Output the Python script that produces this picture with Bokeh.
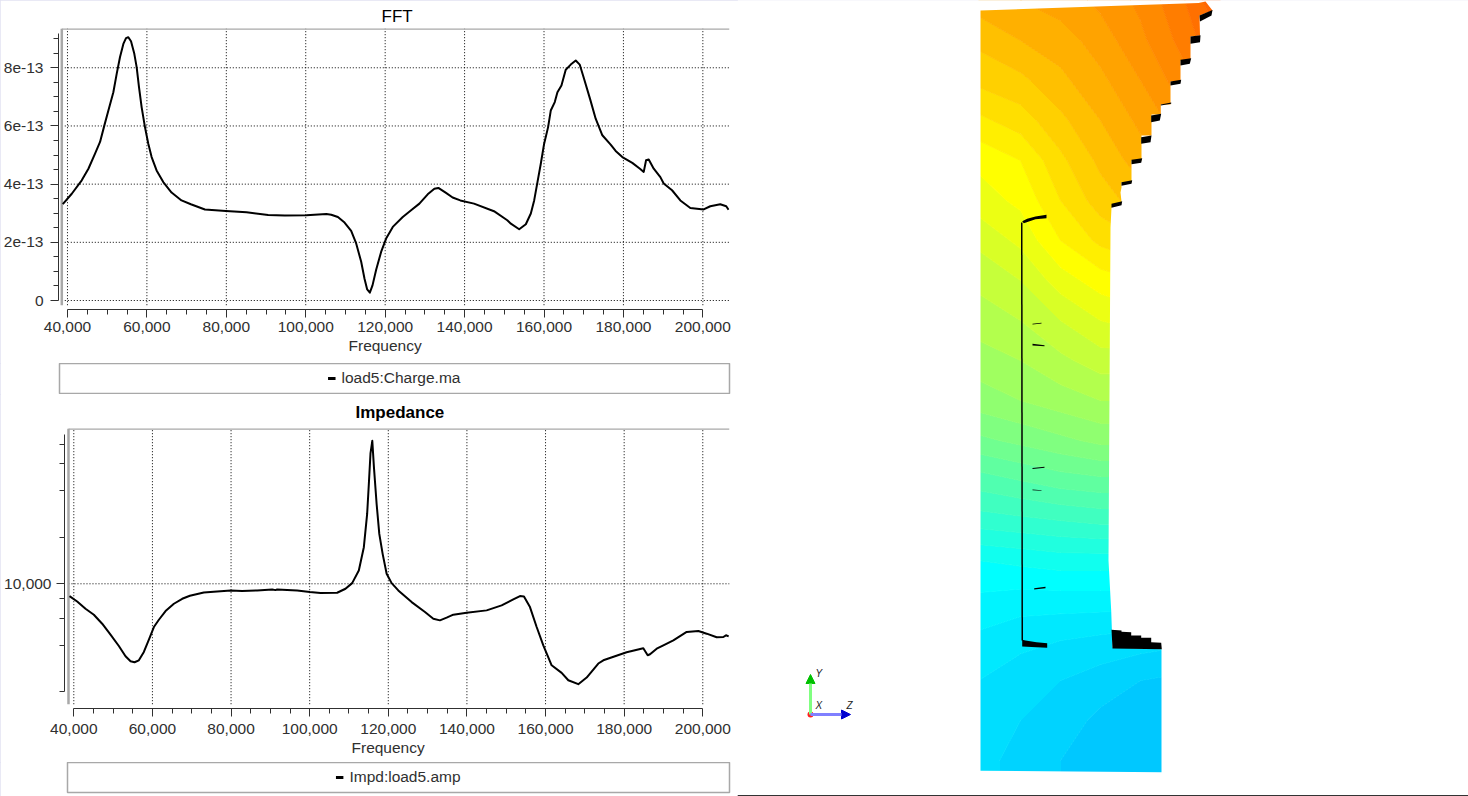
import numpy as np
from bokeh.embed import file_html
from bokeh.resources import INLINE
from bokeh.layouts import column, row
from bokeh.plotting import figure
from bokeh.models import (Range1d, FixedTicker, CustomJSTickFormatter, NumeralTickFormatter, Span, Legend,
                          LegendItem, Arrow, NormalHead, Label, Title)

# ---- FFT curve -------------------------------------------------------
fft_freq = [38820, 41080, 43590, 45270, 46940, 48200, 49290, 50300, 51550, 52390, 53230, 54070, 54740, 55320,
            56000, 56830, 57420, 58000, 58670, 59510, 60350, 61190, 62440, 64120, 66210, 68720, 71070, 74610,
            79890, 85090, 90530, 94720, 100170, 105200,
            106420, 108090, 109770, 111440, 112700, 113960, 114800, 115470, 116140, 116810, 117730, 118980,
            120240, 121920, 124430, 126530, 128620, 130710, 132390, 133390, 135320, 136990, 138920,
            142370, 147400, 150750,
            151650, 153750, 155420, 156680, 157520, 158350, 159190, 160030, 161030, 161700, 162710, 163380,
            164390, 165470, 166730, 167990, 168990, 170080, 171590, 173010, 174690, 176780, 178040, 179720,
            182230, 184160,
            185110, 185700, 186370, 187630, 189300, 190140, 192240, 194330, 196850, 200200, 201870, 204380,
            205890, 206470]
fft_val = [3.31, 3.67, 4.13, 4.53, 5.05, 5.45, 6.02, 6.53, 7.16, 7.79, 8.37, 8.82, 9.02, 9.05,
           8.91, 8.48, 8.02, 7.34, 6.65, 5.96, 5.39, 4.93, 4.47, 4.07, 3.71, 3.44, 3.31, 3.13,
           3.08, 3.03, 2.94, 2.92, 2.93, 2.97,
           2.95, 2.87, 2.68, 2.39, 1.96, 1.33, 0.75, 0.38, 0.27, 0.52, 1.06, 1.67,
           2.13, 2.53, 2.87, 3.10, 3.33, 3.65, 3.84, 3.87, 3.70, 3.54, 3.44,
           3.33, 3.07, 2.76,
           2.64, 2.45, 2.62, 2.99, 3.44, 4.07, 4.70, 5.39, 5.96, 6.53, 6.82, 7.16,
           7.39, 7.93, 8.11, 8.25, 8.11, 7.62, 6.93, 6.25, 5.68, 5.36, 5.14, 4.93,
           4.73, 4.53,
           4.42, 4.82, 4.85, 4.53, 4.24, 4.02, 3.79, 3.44, 3.18, 3.13, 3.24, 3.31,
           3.24, 3.12]
fft_scale = 1e-13
fft_y_ticks = [0, 2e-13, 4e-13, 6e-13, 8e-13]
fft_y_minor = [0.5e-13, 1e-13, 1.5e-13, 2.5e-13, 3e-13, 3.5e-13, 4.5e-13, 5e-13, 5.5e-13, 6.5e-13, 7e-13, 7.5e-13,
               8.5e-13, 9e-13]

# ---- Impedance curve -------------------------------------------------
imp_freq = [38905, 40860, 42980, 45100, 47220, 49340, 51460, 53160, 54430, 55450, 56550, 57820, 59100, 60370,
            61640, 63340, 65460, 67580, 69530,
            73070, 76460, 79940, 82820, 86640, 90460, 91300, 91730, 96820, 100040, 102750, 106990, 109110,
            110810, 112500, 113780, 114620, 115050, 115470, 115930, 116350, 117030, 117710, 118560, 119580,
            120850, 122540, 125940, 129330, 131450, 133140, 134840, 136540, 139930, 145020, 148830, 151800,
            153500, 154510, 156040, 157740, 159430, 161550, 164100, 165790, 168330, 170460, 173420, 174700,
            177660, 180630, 184870, 185980, 186580, 188270, 189970, 192510, 195900, 198870, 200990, 203530,
            205230, 205900, 206580]
imp_val = [8322, 7687, 6895, 6307, 5517, 4686, 3959, 3396, 3153, 3107, 3200, 3622, 4350, 5253,
           5854, 6659, 7427, 7998, 8363,
           8790, 8920, 9060, 8970, 9060, 9190, 9100, 9190, 9060, 8835, 8705, 8750, 9285,
           10100, 12190, 17240, 28290, 44200, 69660, 84090, 56590, 32830, 21020, 15620, 11600,
           10100, 9060, 7615, 6565, 5945, 5800, 6035, 6310, 6500, 6730, 7245, 7925,
           8325, 8285, 7070, 5255, 4000, 2970, 2655, 2378, 2242, 2475, 3050, 3200,
           3397, 3606, 3828, 3450, 3500, 3805, 4000, 4310, 4880, 4950, 4757, 4507,
           4527, 4643, 4570]
imp_y_ticks = [10000]
imp_y_minor = [2000, 4000, 6000, 8000, 20000, 40000, 60000, 80000]

freq_ticks = [40000, 60000, 80000, 100000, 120000, 140000, 160000, 180000, 200000]
freq_minor = [45000, 50000, 55000, 65000, 70000, 75000, 85000, 90000, 95000, 105000, 110000, 115000, 125000, 130000,
              135000, 145000, 150000, 155000, 165000, 170000, 175000, 185000, 190000, 195000]

# ---- Mesh field: colour-scale level read at nodes (rows top to bottom, columns left to right) ----
field_x = [978, 1020, 1060, 1100, 1140, 1180, 1220]
field_y = [0, 40, 80, 120, 160, 200, 240, 280, 320, 360, 400, 440, 480, 520, 560, 600, 640, 680, 720, 760, 800]
field_rows = [
    [5.10, 5.20, 5.30, 5.45, 5.65, 5.95, 6.40],
    [4.85, 5.00, 5.10, 5.30, 5.55, 5.85, 6.20],
    [4.65, 4.75, 4.95, 5.15, 5.40, 5.70, 6.00],
    [4.35, 4.50, 4.75, 5.00, 5.25, 5.50, 5.80],
    [4.05, 4.20, 4.55, 4.85, 5.10, 5.30, 5.50],
    [3.90, 4.05, 4.40, 4.70, 4.90, 5.00, 5.00],
    [3.65, 3.85, 4.20, 4.45, 4.60, 4.60, 4.60],
    [3.45, 3.60, 3.90, 4.10, 4.20, 4.20, 4.20],
    [3.30, 3.40, 3.60, 3.80, 3.90, 3.90, 3.90],
    [3.10, 3.20, 3.35, 3.50, 3.50, 3.50, 3.50],
    [2.90, 3.00, 3.10, 3.20, 3.20, 3.20, 3.20],
    [2.55, 2.65, 2.75, 2.85, 2.85, 2.85, 2.85],
    [2.10, 2.20, 2.30, 2.35, 2.35, 2.35, 2.35],
    [1.70, 1.75, 1.80, 1.85, 1.85, 1.85, 1.85],
    [1.20, 1.25, 1.30, 1.30, 1.30, 1.30, 1.30],
    [0.95, 0.90, 0.90, 0.90, 0.90, 0.90, 0.90],
    [0.75, 0.65, 0.60, 0.55, 0.50, 0.45, 0.45],
    [0.60, 0.50, 0.40, 0.30, 0.20, 0.15, 0.15],
    [0.50, 0.40, 0.30, 0.15, 0.08, 0.05, 0.05],
    [0.45, 0.35, 0.20, 0.10, 0.05, 0.05, 0.05],
    [0.45, 0.35, 0.20, 0.10, 0.05, 0.05, 0.05],
]
ramp_colors = [(0, 200, 255), (0, 255, 255), (80, 255, 176), (160, 255, 96), (255, 255, 0), (255, 176, 0),
               (255, 112, 0), (255, 64, 0)]

# ---- Mesh outline -----------------------------------------------------
outline_x = [980, 1198, 1205, 1212, 1199, 1199.5, 1190, 1190, 1180, 1180, 1170, 1170, 1160.3, 1160.3, 1151, 1151,
             1141, 1141, 1131, 1131, 1121, 1121, 1120, 1121, 1111, 1110, 1108, 1110.7, 1112, 1161, 1161, 980]
outline_y = [10, 2.5, 1, 10, 15, 35, 36, 59, 60, 81, 81, 104, 104, 114, 114, 135, 135, 160, 160, 182, 182, 187, 192,
             201, 207, 227, 560, 610, 647, 648.7, 771.7, 770.3]
# Black marks, each a list of vertices
mark_xs = [
    [1199, 1212, 1211, 1199.5], [1190, 1200, 1199.5, 1190], [1180, 1190.7, 1189.3, 1180], [1170, 1180.7, 1180, 1170],
    [1160.3, 1170.7, 1170.7, 1160.3], [1150.7, 1160.7, 1159.3, 1150.7], [1140.7, 1151, 1150, 1140.7],
    [1131, 1141.7, 1140.7, 1131], [1121, 1131.7, 1131, 1121], [1111, 1121.7, 1121, 1111],
    [1021.7, 1026.7, 1035, 1046, 1046, 1035, 1023.3], [1020.5, 1022, 1022.5, 1021],
    [1021.7, 1025, 1036, 1046.7, 1046.7, 1036, 1021.7],
    [1111, 1121, 1121, 1130.7, 1130.7, 1140.7, 1140.7, 1150.7, 1150.7, 1160.7, 1161.3, 1112],
    [1032, 1041, 1041, 1032], [1032, 1044, 1044, 1032], [1032, 1044, 1044, 1032], [1032, 1041, 1041, 1032],
    [1033.7, 1045, 1045, 1033.7],
]
mark_ys = [
    [15, 9.5, 15, 21], [36, 34.7, 41.7, 43.3], [59.3, 57.7, 63.3, 65], [81, 79.3, 83.3, 85], [104, 102, 103.3, 105],
    [115, 113.3, 120, 121.7], [136.7, 135, 141.7, 143.3], [159.3, 157.7, 162.3, 163.7], [181.7, 179.7, 183.3, 185.3],
    [203.3, 200.7, 204.7, 207.3],
    [220.7, 218.3, 216, 214.3, 217.7, 218.7, 222.7], [222, 222, 640, 640],
    [639.3, 640, 641.7, 642.7, 647.3, 646.7, 646],
    [629.3, 630, 631.3, 631.7, 635, 635, 637.3, 637.3, 641.7, 642.3, 648.7, 648],
    [323.3, 322.3, 323, 324], [343.3, 344.7, 345.7, 345], [467.5, 466.3, 467.3, 468.5], [489, 489.7, 490.3, 489.8],
    [587.7, 586.3, 587.7, 589],
]
triad_x = [810, 810, 850]
triad_y = [714, 674, 714]
x_label = "Frequency"

FONT = "Liberation Sans"
INK = "#303030"
GRAY = "#a8a8a8"


def style_axes(p, y_ticks, y_minor, x_bounds, y_bounds, gray_left, gray_bottom, x_standoff, y_standoff, label_offset):
    ax, ay = p.xaxis[0], p.yaxis[0]
    ax.ticker = FixedTicker(ticks=freq_ticks, minor_ticks=freq_minor)
    ay.ticker = FixedTicker(ticks=y_ticks, minor_ticks=y_minor)
    ax.bounds, ay.bounds = x_bounds, y_bounds
    ax.formatter = NumeralTickFormatter(format="0,0")
    for a in (ax, ay):
        a.axis_line_color = INK
        a.major_tick_line_color = INK
        a.minor_tick_line_color = INK
        a.major_tick_in = a.minor_tick_in = 0
        a.major_tick_out = 8
        a.minor_tick_out = 5
        a.major_label_text_font = FONT
        a.major_label_text_font_size = "15.5px"
        a.major_label_text_color = INK
    ax.major_label_standoff = x_standoff
    ay.major_label_standoff = y_standoff
    p.grid.visible = False
    p.outline_line_color = None
    # the axis title sits under the middle of the drawn axis (not the frame), as in the reference
    p.add_layout(Title(text=x_label, align="left", offset=label_offset, standoff=0, text_font=FONT,
                       text_font_size="15.5px", text_font_style="normal", text_color=INK), "below")
    x_end, y_end = p.x_range.end, p.y_range.end
    r1 = p.segment(x0=freq_ticks, x1=freq_ticks, y0=[gray_bottom] * len(freq_ticks), y1=[y_end] * len(freq_ticks),
                   line_color="black", line_width=1)
    r2 = p.segment(x0=[gray_left] * len(y_ticks), x1=[x_end] * len(y_ticks), y0=y_ticks, y1=y_ticks,
                   line_color="black", line_width=1)
    r1.glyph.line_dash = [1, 2]
    r2.glyph.line_dash = [1, 2]
    p.segment(x0=[gray_left], x1=[gray_left], y0=[gray_bottom], y1=[y_end], line_color=GRAY, line_width=2.5)
    p.segment(x0=[gray_left], x1=[x_end], y0=[y_end], y1=[y_end], line_color=GRAY, line_width=2.5)


def panel_title(p, text, offset, standoff, style, valign):
    p.title = Title(text=text, align="left", offset=offset, standoff=standoff, vertical_align=valign, text_font=FONT,
                    text_font_size="17px", text_font_style=style, text_color="black")


def legend_box(label, left, height, top, xs, ys):
    p = figure(width=737, height=height, min_border_left=left, min_border_right=8, min_border_top=top,
               min_border_bottom=height - top - 30, x_range=(0, 1), y_range=(0, 1), x_axis_location=None,
               y_axis_location=None, toolbar_location=None, output_backend="svg", frame_align=False)
    p.grid.visible = False
    p.outline_line_color = GRAY
    p.outline_line_width = 1.5
    # the curve's own values lie outside this box's 0..1 range: only its legend sample shows
    r = p.line(x=xs, y=ys, line_color="black", line_width=3)
    leg = Legend(items=[LegendItem(label=label, renderers=[r])], location="center", border_line_color=None,
                 background_fill_alpha=0, glyph_width=8, glyph_height=12, label_standoff=6, padding=0, margin=0,
                 label_text_font=FONT, label_text_font_size="15.5px", label_text_color=INK)
    p.add_layout(leg)
    return p


# ---- FFT panel --------------------------------------------------------
fft_y = [v * fft_scale for v in fft_val]
fft = figure(width=737, height=363, min_border_left=57, min_border_right=8, min_border_top=28, min_border_bottom=54,
             x_range=Range1d(37738, 206709), y_range=Range1d(-0.309e-13, 9.35e-13),
             toolbar_location=None, output_backend="svg", frame_align=False)
panel_title(fft, "FFT", 323, 2, "normal", "top")
style_axes(fft, fft_y_ticks, fft_y_minor, (40000, 200000), (0, 9.17e-13), 38568, -0.161e-13, 4, 7, 290)
fft.yaxis[0].formatter = CustomJSTickFormatter(code="return tick == 0 ? '0' : tick.toExponential(0)")
fft.line(fft_freq, fft_y, line_color="black", line_width=2, line_join="round")

# ---- Impedance panel ---------------------------------------------------
imp = figure(width=737, height=368, min_border_left=64, min_border_right=8, min_border_top=34, min_border_bottom=54,
             x_range=Range1d(37634, 206794), y_range=Range1d(1561, 100990), y_axis_type="log",
             toolbar_location=None, output_backend="svg", frame_align=False)
panel_title(imp, "Impedance", 291, 13, "bold", "bottom")
style_axes(imp, imp_y_ticks, imp_y_minor, (40000, 200000), (2000, 93000), 38651, 1664, 7, 5, 287)
imp.yaxis[0].formatter = NumeralTickFormatter(format="0,0")
imp.line(imp_freq, imp_val, line_color="black", line_width=2, line_join="round")

# ---- Mesh panel --------------------------------------------------------
PAGE_H = 796
mesh = figure(width=731, height=796, min_border=0, x_range=Range1d(737, 1468), y_range=Range1d(0, PAGE_H),
              x_axis_location=None, y_axis_location=None, toolbar_location=None, output_backend="svg")
mesh.grid.visible = False
mesh.outline_line_color = None
anchors = np.array(ramp_colors, dtype=float)
band_edges = np.linspace(0, len(ramp_colors) - 1, 36)
ramp = ["#%02x%02x%02x" % tuple(int(round(np.interp(l, np.arange(len(anchors)), anchors[:, c]))) for c in range(3))
        for l in band_edges]
field = np.array(field_rows, dtype=float)
mesh.contour(x=field_x, y=[PAGE_H - v for v in field_y], z=field, levels=list(band_edges), fill_color=ramp[:-1],
             line_color=ramp, line_width=1)
hole_x = list(outline_x)
hole_y = [PAGE_H - v for v in outline_y]
fx0, fx1 = 737, 1468
mesh.multi_polygons(xs=[[[[fx0, fx1, fx1, fx0], hole_x]]], ys=[[[[-5, -5, PAGE_H + 5, PAGE_H + 5], hole_y]]],
                    fill_color="white", line_color=None)
mesh.patches(xs=mark_xs, ys=[[PAGE_H - v for v in m] for m in mark_ys], fill_color="black", line_color=None)
mesh.add_layout(Span(location=1, dimension="width", line_color="#333333", line_width=1))

ox, oy = triad_x[0], PAGE_H - triad_y[0]
mesh.add_layout(Arrow(x_start=ox, y_start=oy, x_end=triad_x[1], y_end=PAGE_H - triad_y[1], line_color="#80ff80",
                      line_width=3, end=NormalHead(size=9, fill_color="#00c000", line_color="#00c000")))
mesh.add_layout(Arrow(x_start=ox, y_start=oy, x_end=triad_x[2], y_end=PAGE_H - triad_y[2], line_color="#8080ff",
                      line_width=3, end=NormalHead(size=9, fill_color="#0000d0", line_color="#0000d0")))
mesh.scatter([ox], [oy], size=6, fill_color="#ff2020", line_color=None)
for txt, tx, ty in (("Y", 815, 678), ("X", 815, 710), ("Z", 846, 710)):
    mesh.add_layout(Label(x=tx, y=PAGE_H - ty, text=txt, text_font=FONT, text_font_style="italic",
                          text_font_size="10px", text_color="#222222"))

left = column(fft, legend_box("load5:Charge.ma", 59, 31, 0, fft_freq, fft_y), imp,
              legend_box("Impd:load5.amp", 67, 34, 0, imp_freq, imp_val), spacing=0, margin=0)
page = row(left, mesh, spacing=0, margin=0,
           styles={"outline": "1px solid #e2e2f2", "outline-offset": "-1px", "z-index": "5"})
open("out.html", "w").write(file_html(page, INLINE))
